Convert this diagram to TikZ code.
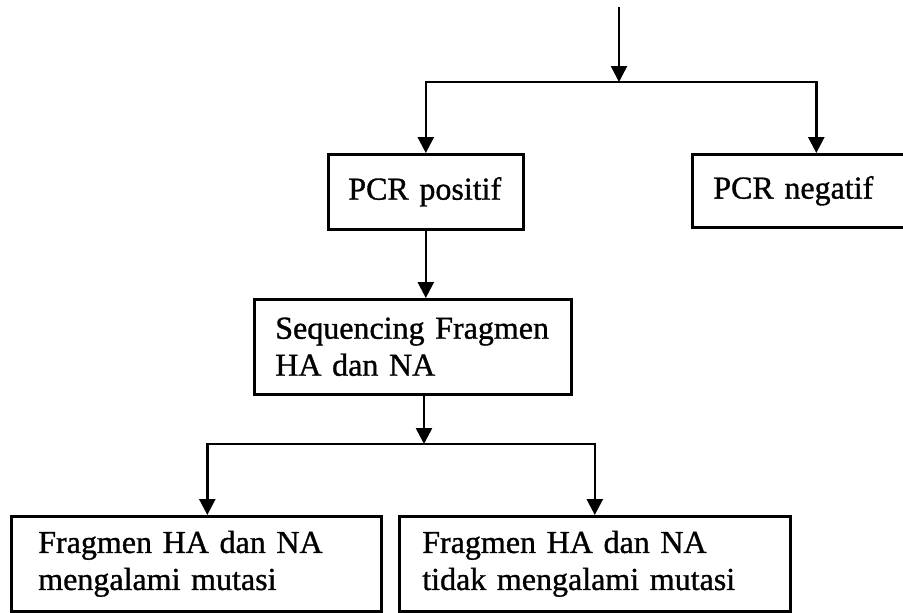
\documentclass[tikz,border=0pt]{standalone}
\usepackage{fontspec}
\setmainfont{Liberation Serif}
\newfontfamily\tulisan[FakeBold=1]{Liberation Serif}
\usetikzlibrary{arrows.meta, positioning}

\tikzset{
  kotak/.style={draw, line width=2.6pt, anchor=north west, align=left,
    inner xsep=20pt, inner ysep=0pt, font=\tulisan\fontsize{32}{37}\selectfont},
  panah/.style={line width=2.6pt, -{Triangle[length=16pt,width=16pt]}},
  garis/.style={line width=2.6pt}
}

\begin{document}
\begin{tikzpicture}[x=1pt,y=-1pt]
\useasboundingbox (0,0) rectangle (903,613);
\clip (0,0) rectangle (903,613);

\node[kotak, minimum width=195pt, minimum height=75pt, text width=155pt] (pos) at (327,153) {PCR positif};
\node[kotak, minimum width=248pt, minimum height=73pt, text width=206pt, inner xsep=21pt] (neg) at (691,153) {PCR negatif};
\node[kotak, minimum width=317pt, minimum height=95pt, text width=275pt, inner xsep=21pt] (seq) at (253,298) {Sequencing Fragmen\\HA dan NA};
\node[kotak, minimum width=370pt, minimum height=95pt, text width=316pt, inner xsep=27pt] (mut) at (10,515) {Fragmen HA dan NA\\mengalami mutasi};
\node[kotak, minimum width=391pt, minimum height=95pt, text width=345pt, inner xsep=23pt] (nomut) at (398,515) {Fragmen HA dan NA\\tidak mengalami mutasi};

\coordinate (atas) at (619,7);
\coordinate (cabang1) at (619,82);
\coordinate (cabang2) at (424,444);

\draw[panah] (atas) -- (cabang1);
\draw[panah] (cabang1) -| (pos.north);
\draw[panah] (cabang1) -| (neg.north);
\draw[panah] (pos.south) -- (pos.south |- seq.north);
\draw[panah] (seq.south -| cabang2) -- (cabang2);
\draw[panah] (cabang2) -| ([xshift=11pt]mut.north);
\draw[panah] (cabang2) -| (nomut.north);
\end{tikzpicture}
\end{document}
